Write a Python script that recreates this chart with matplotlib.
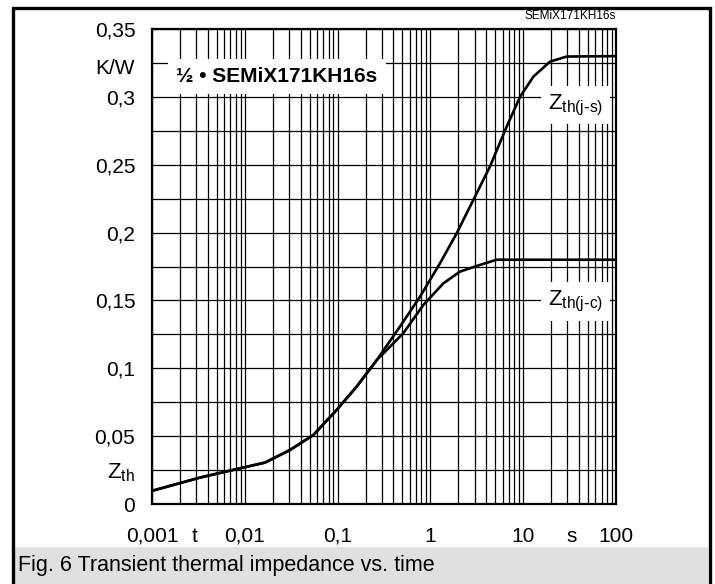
import matplotlib
matplotlib.use("Agg")
import matplotlib.pyplot as plt
from matplotlib.patches import Rectangle
from matplotlib.ticker import LogLocator, FixedLocator, NullFormatter

plt.rcParams['font.family'] = ['Liberation Sans', 'DejaVu Sans']

# Transient thermal impedance data (time in s, Zth in K/W)
t_js = [0.001, 0.0033, 0.0114, 0.0165, 0.0307, 0.0547, 0.0977, 0.1605, 0.264,
        0.47, 0.773, 1.27, 1.92, 2.9, 4.38, 6.63, 9.24, 12.9, 19.5, 29.4, 100.0]
z_js = [0.0097, 0.0195, 0.0280, 0.0305, 0.0398, 0.0508, 0.0693, 0.0865, 0.106,
        0.1307, 0.1528, 0.1774, 0.1995, 0.224, 0.2486, 0.278, 0.300, 0.315,
        0.326, 0.3297, 0.330]

t_jc = [0.001, 0.0033, 0.0114, 0.0165, 0.0307, 0.0547, 0.0977, 0.1605, 0.264,
        0.51, 0.84, 1.38, 2.08, 3.16, 5.18, 100.0]
z_jc = [0.0097, 0.0195, 0.0280, 0.0305, 0.0398, 0.0508, 0.0693, 0.0865, 0.106,
        0.1258, 0.1467, 0.1626, 0.1712, 0.1754, 0.180, 0.180]

x_ticks = [0.001, 0.01, 0.1, 1, 10, 100]
x_labels = ["0,001", "0,01", "0,1", "1", "10", "100"]
y_ticks = [0, 0.05, 0.1, 0.15, 0.2, 0.25, 0.3, 0.35]
y_labels = ["0", "0,05", "0,1", "0,15", "0,2", "0,25", "0,3", "0,35"]
y_minor = [0.025, 0.075, 0.125, 0.175, 0.225, 0.275, 0.325]

W, H = 715, 584
fig = plt.figure(figsize=(W / 100, H / 100), dpi=100)
ax = fig.add_axes([152 / W, 1 - 504 / H, (616 - 152) / W, (504 - 29) / H])

ax.set_xscale('log')
ax.set_xlim(0.001, 100)
ax.set_ylim(0, 0.35)

ax.xaxis.set_major_locator(FixedLocator(x_ticks))
ax.set_xticklabels(x_labels)
ax.xaxis.set_minor_locator(LogLocator(base=10, subs=range(2, 10), numticks=20))
ax.xaxis.set_minor_formatter(NullFormatter())
ax.set_yticks(y_ticks)
ax.set_yticklabels(y_labels)
ax.yaxis.set_minor_locator(FixedLocator(y_minor))

ax.tick_params(which='both', length=0)
ax.tick_params(axis='y', pad=12, labelsize=15)
ax.tick_params(axis='x', pad=27, labelsize=15)
for lbl in ax.get_xticklabels():
    lbl.set_verticalalignment('baseline')
ax.grid(which='both', color='black', linewidth=0.9)
for s in ax.spines.values():
    s.set_linewidth(1.6)

ax.plot(t_js, z_js, color='black', linewidth=1.9, zorder=3)
ax.plot(t_jc, z_jc, color='black', linewidth=1.9, zorder=3)

# labels with white boxes that interrupt the grid
ax.text(0.00182, 0.315, "½ • SEMiX171KH16s", fontsize=15, fontweight='bold',
        va='center', ha='left', zorder=4,
        bbox=dict(facecolor='white', edgecolor='none', pad=6))
ax.text(37, 0.294, r"Z$_{\mathregular{th(j\text{-}s)}}$", fontsize=16,
        va='center', ha='center', zorder=4,
        bbox=dict(facecolor='white', edgecolor='none', pad=5))
ax.text(37, 0.149, r"Z$_{\mathregular{th(j\text{-}c)}}$", fontsize=16,
        va='center', ha='center', zorder=4,
        bbox=dict(facecolor='white', edgecolor='none', pad=5))

# axis units and symbols
ax.text(-17 / 464, 0.321, "K/W", transform=ax.get_yaxis_transform(),
        fontsize=15, ha='right', va='center')
ax.text(-17 / 464, 0.0228, r"Z$_{\mathregular{th}}$", transform=ax.get_yaxis_transform(),
        fontsize=16, ha='right', va='center')
base_y = -27 * 100 / 72 / 475
ax.text(0.0029, base_y, "t", transform=ax.get_xaxis_transform(),
        fontsize=15, ha='center', va='baseline')
ax.text(33.5, base_y, "s", transform=ax.get_xaxis_transform(),
        fontsize=15, ha='center', va='baseline')

fig.text(616 / W, 1 - 16 / H, "SEMiX171KH16s", fontsize=8.5, ha='right', va='center')

# caption band and outer frame
fig.add_artist(Rectangle((14 / W, 0), (708 - 14) / W, 37 / H, transform=fig.transFigure,
                         facecolor='#e0e0e0', edgecolor='none', zorder=0))
fig.text(18 / W, 1 - 566 / H, "Fig. 6 Transient thermal impedance vs. time",
         fontsize=15.5, ha='left', va='center')
fig.add_artist(Rectangle((12.5 / W, -0.02), 697 / W, 1.02 - 7.5 / H, transform=fig.transFigure,
                         facecolor='none', edgecolor='black', linewidth=2.4, zorder=5))

fig.savefig("out.png", dpi=100)
